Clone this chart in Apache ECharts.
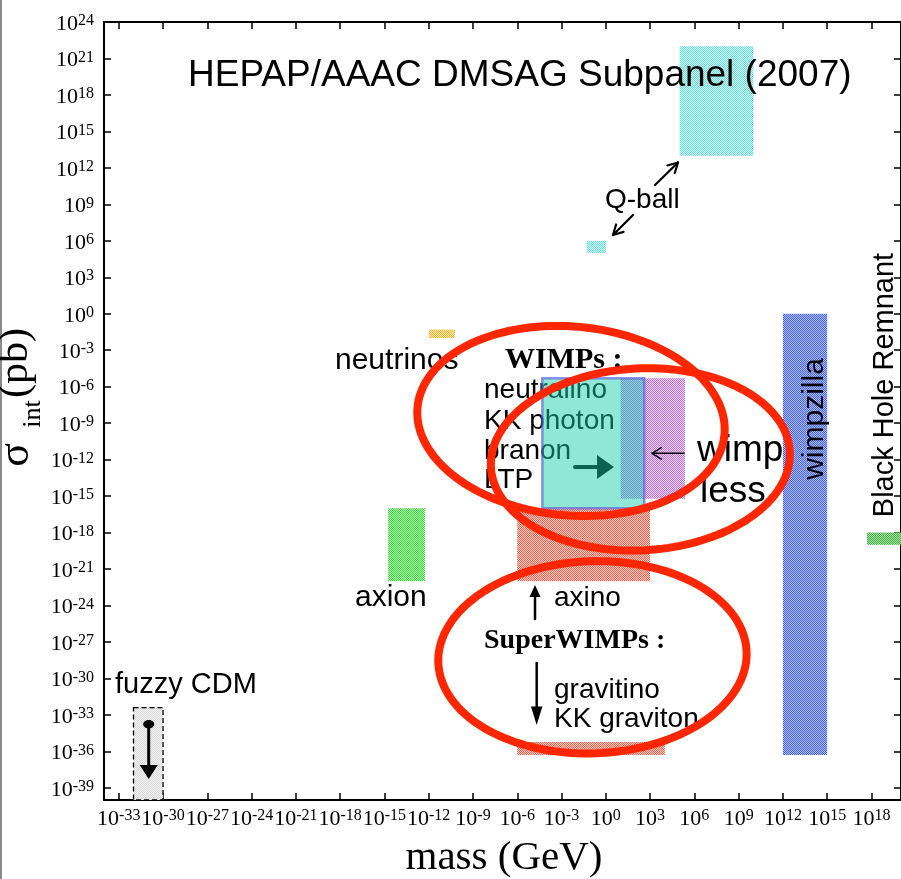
<!DOCTYPE html>
<html><head><meta charset="utf-8">
<script src="https://cdn.jsdelivr.net/npm/echarts@6/dist/echarts.min.js"></script>
<style>html,body{margin:0;padding:0;background:#fff}#c{width:901px;height:879px}</style>
</head><body><div id="c"></div>
<script>
// ---------------- data (mass in GeV, cross-section in pb) ----------------
const boxNames  = ['fuzzy CDM','axion','neutrinos','Q-ball (small)','Q-ball (large)','axino','gravitino / KK graviton','wimpless','WIMPs','wimpzilla','Black Hole Remnant'];
const massMin   = [1e-32, 1.8e-15, 1e-12, 0.05, 1e5,  1e-6, 1e-6, 10,     5e-5,   1e12, 5e17];
const massMax   = [1e-30, 5.5e-13, 6e-11, 1,    1e10, 1e3,  1e4,  2.3e5,  400,    1e15, 1e21];
const sigmaMin  = [1e-40, 1e-22,   1e-2,  1e5,  1e13, 1e-22, 5e-37, 6e-16, 1e-16,  5e-37, 1e-19];
const sigmaMax  = [4e-33, 1e-16,   5e-2,  1e6,  1e22, 1e-16, 6e-36, 5e-6,  5e-6,   1,     1e-18];
const xTickExp  = [-33,-30,-27,-24,-21,-18,-15,-12,-9,-6,-3,0,3,6,9,12,15,18];
const yTickExp  = [-39,-36,-33,-30,-27,-24,-21,-18,-15,-12,-9,-6,-3,0,3,6,9,12,15,18,21,24];
// annotation ellipses: centre (mass, sigma), half-widths in decades, tilt (deg)
const ellMass   = [10**-2.36, 10**2.34, 10**-0.905];
const ellSigma  = [10**-8.82, 10**-11.98, 10**-28.26];
const ellRxDec  = [10.44, 10.14, 10.45];
const ellRyDec  = [7.77, 7.48, 7.9];
const ellTilt   = [5, -3, -2];

// ---------------- styles ----------------
function checker(c1, c2){
  const cv = document.createElement('canvas'); cv.width = 2; cv.height = 2;
  const g = cv.getContext('2d');
  g.fillStyle = c2; g.fillRect(0,0,2,2);
  g.fillStyle = c1; g.fillRect(0,0,1,1); g.fillRect(1,1,1,1);
  return {image: cv, repeat: 'repeat'};
}
const boxStyles = {
  'fuzzy CDM': {fill: checker('#d9d9d9','#f2f2f2'), stroke:'#000', lineWidth:1.3, lineDash:[5,3]},
  'axion': {fill: checker('#34e434','#bdf8bd')},
  'neutrinos': {fill: checker('#f4b530','#fde8b6')},
  'Q-ball (small)': {fill: checker('#6cdfd9','#d0f6f4')},
  'Q-ball (large)': {fill: checker('#6cdfd9','#d0f6f4')},
  'axino': {fill: checker('#f46652','#fccbc3')},
  'gravitino / KK graviton': {fill: checker('#f46652','#fccbc3')},
  'wimpless': {fill: checker('#bb6aee','#f0dcfb')},
  'WIMPs': {fill: 'rgba(22,204,168,0.48)', stroke:'rgba(90,90,225,0.65)', lineWidth:2.5},
  'wimpzilla': {fill: checker('#4664f0','#aebcf9')},
  'Black Hole Remnant': {fill: checker('#3eb03e','#acdfac')}
};
const lg = Math.log10;
const boxData = boxNames.map((n,i)=>[lg(massMin[i]), lg(massMax[i]), lg(sigmaMin[i]), lg(sigmaMax[i]), i]);
const ellData = ellMass.map((m,i)=>[lg(m), lg(ellSigma[i]), ellRxDec[i], ellRyDec[i], ellTilt[i]]);

const SERIF = 'Liberation Serif', SANS = 'Liberation Sans';
const labelRich = {
  b: {fontFamily: SERIF, fontSize: 22, lineHeight: 22, verticalAlign: 'bottom', color: '#000'},
  s: {fontFamily: SERIF, fontSize: 16, lineHeight: 16, verticalAlign: 'top', padding: [0,0,12,0], color: '#000'}
};
const fmt = v => '{b|10}{s|' + Math.round(v) + '}';

function renderBox(params, api){
  const i = api.value(4);
  const p1 = api.coord([api.value(0), api.value(3)]);
  const p2 = api.coord([api.value(1), api.value(2)]);
  const cs = params.coordSys;
  const r = echarts.graphic.clipRectByRect(
    {x:p1[0], y:p1[1], width:p2[0]-p1[0], height:p2[1]-p1[1]},
    {x:cs.x, y:cs.y, width:cs.width, height:cs.height});
  if(!r) return;
  return {type:'rect', shape:r, style: Object.assign({}, boxStyles[boxNames[i]])};
}
function renderEllipse(params, api){
  const c = api.coord([api.value(0), api.value(1)]);
  const s = api.size([api.value(2), api.value(3)], [api.value(0), api.value(1)]);
  const th = api.value(4)*Math.PI/180;
  const pts = [];
  for(let k=0;k<160;k++){
    const t = k/160*2*Math.PI, x = s[0]*Math.cos(t), y = s[1]*Math.sin(t);
    pts.push([c[0] + x*Math.cos(th) - y*Math.sin(th), c[1] + x*Math.sin(th) + y*Math.cos(th)]);
  }
  return {type:'polygon', shape:{points:pts}, style:{fill:'none', stroke:'#ff2600', lineWidth:8}};
}

// ---------------- annotation helpers (pixel layout) ----------------
function T(text, x, y, size, o){
  o = o || {};
  return {type:'text', x:x, y:y, z: o.z==null?50:o.z, rotation: o.rot||0,
    style:{text:text, fontSize:size, fontFamily:o.ff||SANS, fontWeight:o.fw||'normal', fill:'#000',
      align:o.align||'left', textAlign:o.align||'left', verticalAlign:'middle', textVerticalAlign:'middle'}};
}
function L(x1,y1,x2,y2,w,z){ return {type:'line', z:z==null?50:z, shape:{x1,y1,x2,y2}, style:{stroke:'#000', lineWidth:w, lineCap:'round'}}; }
function P(pts,z){ return {type:'polygon', z:z==null?50:z, shape:{points:pts}, style:{fill:'#000'}}; }
function openArrow(x1,y1,x2,y2,w,hl,ang){
  const a = Math.atan2(y2-y1, x2-x1), out=[L(x1,y1,x2,y2,w)];
  [ang,-ang].forEach(d=>{ out.push(L(x2,y2,x2-hl*Math.cos(a+d),y2-hl*Math.sin(a+d),w)); });
  return out;
}

const graphics = [
  {type:'rect', z:50, shape:{x:0,y:0,width:2,height:879}, style:{fill:'#8a8a8a'}},
  T('HEPAP/AAAC DMSAG Subpanel (2007)', 188, 75.5, 37, {z:60}),
  T('Q-ball', 605, 200.3, 28),
  ...openArrow(655,185,678,162.5,2.2,11,0.5),
  ...openArrow(633,215,613,235,2.2,11,0.5),
  T('neutrinos', 335, 360.3, 30),
  T('WIMPs :', 505, 360.6, 30, {ff:SERIF, fw:'bold'}),
  T('neutralino', 484, 390.3, 28, {z:1}),
  T('KK photon', 484, 421, 28, {z:1}),
  T('branon', 484, 451, 28, {z:1}),
  T('LTP', 484, 480.3, 28, {z:1}),
  L(575,467,603,467,4,1),
  P([[597,455],[614,467],[597,479]],1),
  ...openArrow(684,453.3,652,453.3,1.5,11,0.55),
  T('wimp', 697, 451.2, 37),
  T('less', 700, 492.2, 37),
  T('wimpzilla', 814.6, 419, 30, {rot:Math.PI/2, align:'center'}),
  T('Black Hole Remnant', 885, 385, 29, {rot:Math.PI/2, align:'center'}),
  T('axion', 355, 597.9, 30),
  T('axino', 554, 598.6, 28),
  L(535,619,535,594,2.5), P([[529.5,597],[540.5,597],[535,585]]),
  T('SuperWIMPs :', 484, 640.6, 28, {ff:SERIF, fw:'bold'}),
  L(536.7,663,536.7,709,2.5), P([[531,706.5],[542.4,706.5],[536.7,725]]),
  T('gravitino', 554, 690.3, 28),
  T('KK graviton', 554, 719.6, 28),
  T('fuzzy CDM', 115, 685, 29),
  {type:'ellipse', z:50, shape:{cx:148.7, cy:724.3, rx:5.5, ry:4.2}, style:{fill:'#000'}},
  L(148.7,724,148.7,767,3), P([[139.7,765],[157.7,765],[148.7,779]]),
  T('mass (GeV)', 504, 858.2, 41, {ff:SERIF, align:'center'}),
  T('σ', 16, 455, 44, {ff:SERIF, rot:Math.PI/2, align:'center'}),
  T('int', 33, 414, 26, {ff:SERIF, rot:Math.PI/2, align:'center'}),
  T('(pb)', 16, 363, 42, {ff:SERIF, rot:Math.PI/2, align:'center'})
];

const axisCommon = {
  type:'value', splitLine:{show:false},
  axisLine:{show:true, onZero:false, lineStyle:{color:'#000', width:2}},
  axisTick:{show:true, inside:true, length:7, lineStyle:{color:'#000', width:1.5}}
};
const option = {
  animation:false,
  backgroundColor:'#fff',
  grid:{left:104, right:-3, top:22, bottom:79, containLabel:false},
  xAxis:[
    Object.assign({}, axisCommon, {position:'bottom', min:-34, max:20,
      axisTick:Object.assign({}, axisCommon.axisTick, {customValues:xTickExp}),
      axisLabel:{show:true, customValues:xTickExp, formatter:fmt, rich:labelRich, margin:8, interval:0, hideOverlap:false}}),
    Object.assign({}, axisCommon, {position:'top', min:-34, max:20,
      axisTick:Object.assign({}, axisCommon.axisTick, {customValues:xTickExp}),
      axisLabel:{show:false}})
  ],
  yAxis:[
    Object.assign({}, axisCommon, {position:'left', min:-40, max:24,
      axisTick:Object.assign({}, axisCommon.axisTick, {customValues:yTickExp}),
      axisLabel:{show:true, customValues:yTickExp, formatter:fmt, rich:labelRich, margin:10, padding:[4,0,0,0], hideOverlap:false}}),
    Object.assign({}, axisCommon, {position:'right', min:-40, max:24,
      axisTick:Object.assign({}, axisCommon.axisTick, {customValues:yTickExp}),
      axisLabel:{show:false}})
  ],
  series:[
    {type:'custom', name:'dark matter candidates', z:2, renderItem:renderBox, data:boxData,
     encode:{x:[0,1], y:[2,3]}, clip:false},
    {type:'custom', name:'annotations', z:80, renderItem:renderEllipse, data:ellData,
     encode:{x:0, y:1}, silent:true}
  ],
  graphic:{elements:graphics}
};
const chart = echarts.init(document.getElementById('c'), null, {renderer:'canvas'});
chart.setOption(option);
</script></body></html>
